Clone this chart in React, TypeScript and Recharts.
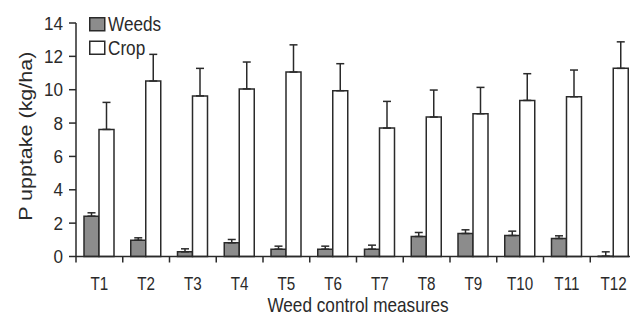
import React from 'react';
import { BarChart, Bar, XAxis, YAxis, ErrorBar, Label } from 'recharts';

const categories = ['T1', 'T2', 'T3', 'T4', 'T5', 'T6', 'T7', 'T8', 'T9', 'T10', 'T11', 'T12'];
const weeds = [2.42, 0.98, 0.28, 0.82, 0.44, 0.44, 0.44, 1.2, 1.38, 1.26, 1.08, 0.02];
const weedsErr = [0.2, 0.14, 0.18, 0.2, 0.18, 0.18, 0.24, 0.24, 0.22, 0.26, 0.16, 0.26];
const crop = [7.62, 10.52, 9.63, 10.05, 11.06, 9.94, 7.7, 8.36, 8.56, 9.36, 9.58, 11.28];
const cropErr = [1.62, 1.6, 1.65, 1.61, 1.63, 1.62, 1.6, 1.62, 1.58, 1.6, 1.6, 1.59];
const yTicks = [0, 2, 4, 6, 8, 10, 12, 14];
const seriesNames = ['Weeds', 'Crop'];

const data = categories.map((c, i) => ({
  name: c,
  weeds: weeds[i],
  crop: crop[i],
  weedsErr: [0, weedsErr[i]],
  cropErr: [0, cropErr[i]],
}));

const CHART_W = 700;
const CHART_H = 318;
const MARGIN = { top: 23, right: 63, bottom: 0, left: 0 };
const Y_W = 76;
const X_H = 61.5;
const PLOT_W = CHART_W - MARGIN.left - MARGIN.right - Y_W;
const BAND = PLOT_W / categories.length;

const INK = '#2a2a2a';
const WEED_FILL = '#8c8c8c';
const FONT = '"Liberation Sans", Arial, sans-serif';

const XTick = (props: any) => {
  const { x, y, payload } = props;
  const bx = x - BAND / 2;
  return (
    <g>
      <line x1={bx} y1={y - 6} x2={bx} y2={y} stroke={INK} strokeWidth={1.5} />
      <text
        transform={`translate(${x},${y + 27}) scale(0.8,1)`}
        textAnchor="middle"
        fontSize={19}
        fontFamily={FONT}
        fill={INK}
      >
        {payload.value}
      </text>
    </g>
  );
};

const YTick = (props: any) => {
  const { x, y, payload } = props;
  return (
    <text
      transform={`translate(${x},${y + 6.7}) scale(0.9,1)`}
      textAnchor="end"
      fontSize={19}
      fontFamily={FONT}
      fill={INK}
    >
      {payload.value}
    </text>
  );
};

const XTitle = (props: any) => {
  const vb = props.viewBox || {};
  const cx = vb.x + vb.width / 2 + 1.5;
  return (
    <text
      transform={`translate(${cx},${vb.y + 55.5}) scale(0.86,1)`}
      textAnchor="middle"
      fontSize={20}
      fontFamily={FONT}
      fill={INK}
    >
      Weed control measures
    </text>
  );
};

const YTitle = (props: any) => {
  const vb = props.viewBox || {};
  const cy = vb.y + vb.height / 2 - 3.5;
  return (
    <text
      transform={`translate(32,${cy}) scale(0.85,1) rotate(-90)`}
      textAnchor="middle"
      fontSize={21.5}
      fontFamily={FONT}
      fill={INK}
    >
      P upptake (kg/ha)
    </text>
  );
};

const LegendOverlay = () => (
  <svg
    width={630}
    height={318}
    style={{ position: 'absolute', left: 0, top: 0, pointerEvents: 'none' }}
  >
    <rect x={89.75} y={17.75} width={15} height={13} fill={WEED_FILL} stroke={INK} strokeWidth={1.5} />
    <text transform="translate(108,31) scale(0.88,1)" fontSize={19.5} fontFamily={FONT} fill={INK}>
      {seriesNames[0]}
    </text>
    <rect x={89.75} y={41.25} width={15} height={13} fill="#ffffff" stroke={INK} strokeWidth={1.5} />
    <text transform="translate(108,54.5) scale(0.88,1)" fontSize={19.5} fontFamily={FONT} fill={INK}>
      {seriesNames[1]}
    </text>
  </svg>
);

export default function App() {
  return (
    <div
      style={{
        position: 'absolute',
        left: 0,
        top: 0,
        width: 630,
        height: 318,
        overflow: 'hidden',
        background: '#ffffff',
      }}
    >
      <BarChart
        width={CHART_W}
        height={CHART_H}
        data={data}
        margin={MARGIN}
        barGap={0}
        barSize={15}
      >
        <XAxis
          dataKey="name"
          height={X_H}
          axisLine={{ stroke: INK, strokeWidth: 1.5 }}
          tickLine={false}
          tickSize={6}
          tickMargin={0}
          tick={<XTick />}
          interval={0}
        >
          <Label content={<XTitle />} />
        </XAxis>
        <YAxis
          width={Y_W}
          domain={[0, 14]}
          ticks={yTicks}
          interval={0}
          axisLine={{ stroke: INK, strokeWidth: 1.5 }}
          tickLine={{ stroke: INK, strokeWidth: 1.5 }}
          tickSize={7}
          tickMargin={6}
          tick={<YTick />}
        >
          <Label content={<YTitle />} />
        </YAxis>
        <Bar dataKey="weeds" name={seriesNames[0]} fill={WEED_FILL} stroke={INK} strokeWidth={1.5} isAnimationActive={false}>
          <ErrorBar dataKey="weedsErr" width={4} stroke={INK} strokeWidth={1.5} direction="y" />
        </Bar>
        <Bar dataKey="crop" name={seriesNames[1]} fill="#ffffff" stroke={INK} strokeWidth={1.5} isAnimationActive={false}>
          <ErrorBar dataKey="cropErr" width={4} stroke={INK} strokeWidth={1.5} direction="y" />
        </Bar>
      </BarChart>
      <LegendOverlay />
    </div>
  );
}
